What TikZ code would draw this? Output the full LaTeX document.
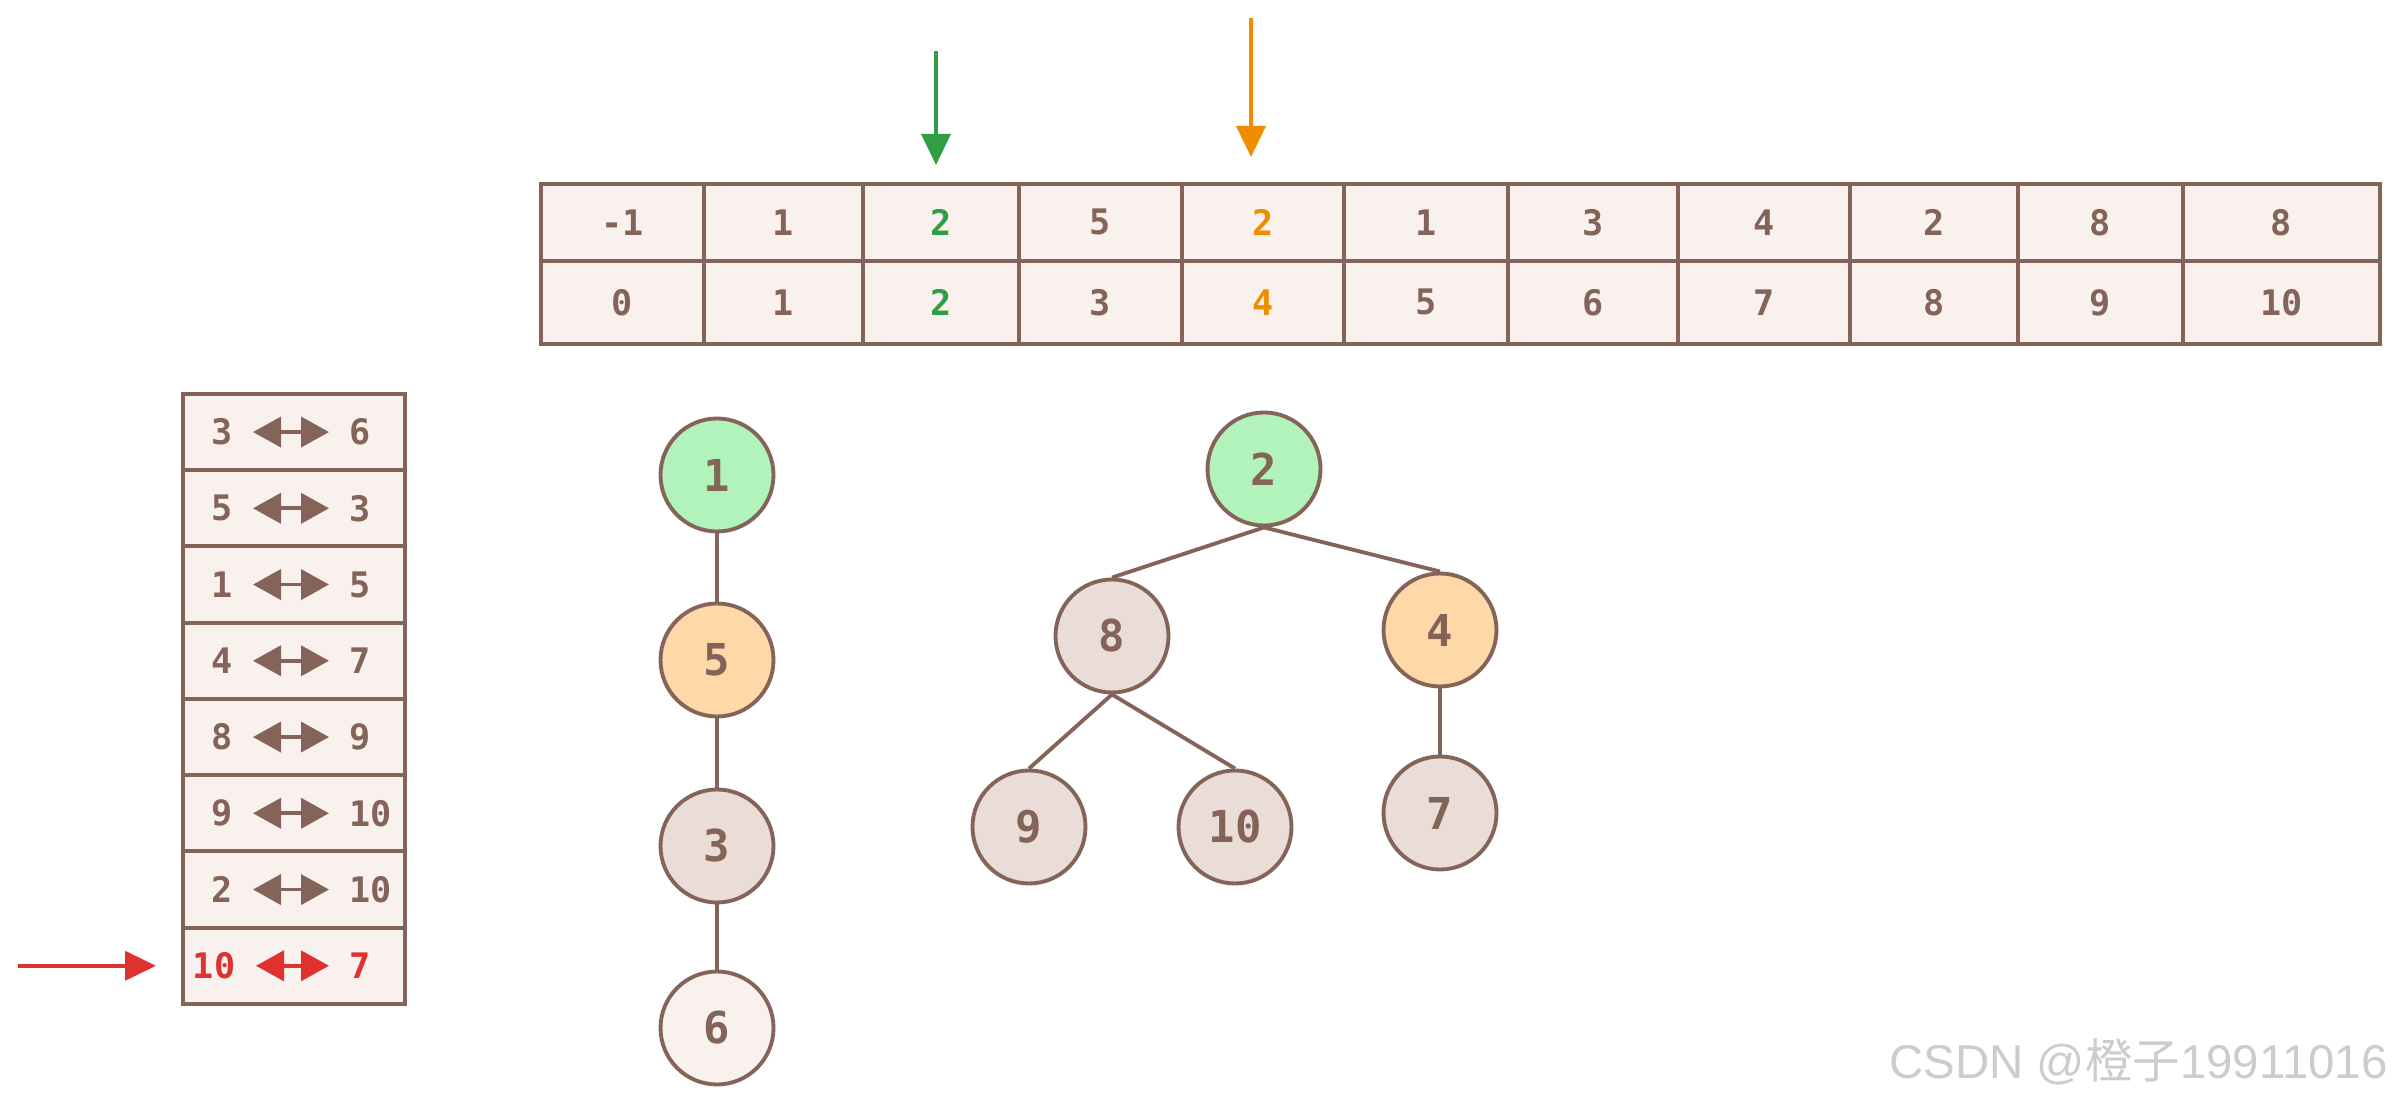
\documentclass[tikz,border=0pt]{standalone}
\usepackage{fontspec}
\setmonofont{DejaVu Sans Mono}
\newfontfamily\cjkfont{Noto Sans CJK SC}
\newfontfamily\markfont{Liberation Sans}
\definecolor{exbrown}{HTML}{846358}
\definecolor{exbeige}{HTML}{F8F1EE}
\definecolor{exsand}{HTML}{EADDD7}
\definecolor{exgreen}{HTML}{2F9E44}
\definecolor{exmint}{HTML}{B2F2BB}
\definecolor{exorange}{HTML}{F08C00}
\definecolor{expeach}{HTML}{FFD8A8}
\definecolor{exred}{HTML}{E03131}
\usetikzlibrary{arrows.meta,positioning,calc}

\begin{document}
\begin{tikzpicture}[
  cell/.style={draw=exbrown, fill=exbeige, line width=1.1pt, inner sep=0pt, font=\ttfamily\bfseries\fontsize{10}{12}\selectfont},
  slot/.style={draw=exbrown, fill=exbeige, line width=1.1pt, inner sep=0pt, minimum width=2.22cm, minimum height=0.7625cm},
  num/.style={inner sep=0pt, text=exbrown, font=\ttfamily\bfseries\fontsize{10}{12}\selectfont},
  swap/.style={{Triangle[length=2.8mm,width=3.0mm]}-{Triangle[length=2.8mm,width=3.0mm]}, line width=1.1pt, exbrown, shorten <=0.2cm, shorten >=0.2cm},
  pointer/.style={-{Triangle[length=3.1mm,width=2.9mm]}, line width=1.1pt},
  tnode/.style={circle, draw=exbrown, line width=1.1pt, minimum size=1.13cm, inner sep=0pt, text=exbrown, font=\ttfamily\bfseries\fontsize{12.5}{14}\selectfont},
  edge/.style={exbrown, line width=1.1pt}
]
  \useasboundingbox (0,0) rectangle (24.02,-11.04);

  % array: parent values on top, indices below
  \foreach \k/\xa/\xb/\v/\c in {0/5.39/7.02/-1/exbrown, 1/7.02/8.61/1/exbrown, 2/8.61/10.17/2/exgreen, 3/10.17/11.80/5/exbrown, 4/11.80/13.42/2/exorange, 5/13.42/15.06/1/exbrown, 6/15.06/16.76/3/exbrown, 7/16.76/18.48/4/exbrown, 8/18.48/20.16/2/exbrown, 9/20.16/21.81/8/exbrown, 10/21.81/23.78/8/exbrown}{
    \node[cell, text=\c, minimum width={(\xb-\xa)*1cm}, minimum height=0.77cm, anchor=north west] (v\k) at (\xa,-1.82) {\v};
    \node[cell, text=\c, minimum width={(\xb-\xa)*1cm}, minimum height=0.83cm, anchor=north west] (i\k) at (\xa,-2.59) {\k};
  }

  % pointers into the array
  \coordinate (gtop) at (9.36,-0.51);
  \draw[pointer, exgreen, shorten >=0.17cm] (gtop) -- (gtop |- v2.north);
  \coordinate (otop) at (12.51,-0.18);
  \draw[pointer, exorange, shorten >=0.25cm] (otop) -- (otop |- v4.north);

  % list of unions
  \foreach \k/\a/\b in {1/3/6, 2/5/3, 3/1/5, 4/4/7, 5/8/9, 6/9/10, 7/2/10}{
    \node[slot, anchor=north west] (row\k) at (1.81,{-3.92-(\k-1)*0.7625}) {};
    \node[num, anchor=east] (a\k) at ($(row\k.west)+(0.52,0)$) {\a};
    \node[num, anchor=west] (b\k) at ($(row\k.west)+(1.68,0)$) {\b};
    \draw[swap] (a\k) -- (b\k);
  }
  \node[slot, anchor=north west] (row8) at (1.81,{-3.92-7*0.7625}) {};
  \node[num, text=exred, anchor=east] (a8) at ($(row8.west)+(0.55,0)$) {10};
  \node[num, text=exred, anchor=west] (b8) at ($(row8.west)+(1.68,0)$) {7};
  \draw[swap, exred] (a8) -- (b8);
  \coordinate (rtail) at ($(row8.west)+(-1.63,0)$);
  \draw[pointer, exred, shorten >=0.25cm] (rtail) -- (row8.west);

  % tree rooted at 1
  \node[tnode, fill=exmint] (t1) at (7.17,-4.75) {1};
  \node[tnode, fill=expeach] (t5) at (7.17,-6.60) {5};
  \node[tnode, fill=exsand] (t3) at (7.17,-8.46) {3};
  \node[tnode, fill=exbeige] (t6) at (7.17,-10.28) {6};
  \draw[edge] (t1) -- (t5);
  \draw[edge] (t5) -- (t3);
  \draw[edge] (t3) -- (t6);

  % tree rooted at 2
  \node[tnode, fill=exmint] (t2) at (12.64,-4.69) {2};
  \node[tnode, fill=exsand] (t8) at (11.12,-6.36) {8};
  \node[tnode, fill=expeach] (t4) at (14.40,-6.30) {4};
  \node[tnode, fill=exsand] (t9) at (10.29,-8.27) {9};
  \node[tnode, fill=exsand] (t10) at (12.35,-8.27) {10};
  \node[tnode, fill=exsand] (t7) at (14.40,-8.13) {7};
  \draw[edge] (t2.south) -- (t8.north);
  \draw[edge] (t2.south) -- (t4.north);
  \draw[edge] (t8.south) -- (t9.north);
  \draw[edge] (t8.south) -- (t10.north);
  \draw[edge] (t4.south) -- (t7.north);

  % watermark
  \node[font=\markfont\fontsize{13.5}{15}\selectfont, text=black!20, anchor=east] (mark) at (24.00,-10.62) {CSDN @{\cjkfont 橙子}19911016};
\end{tikzpicture}
\end{document}
